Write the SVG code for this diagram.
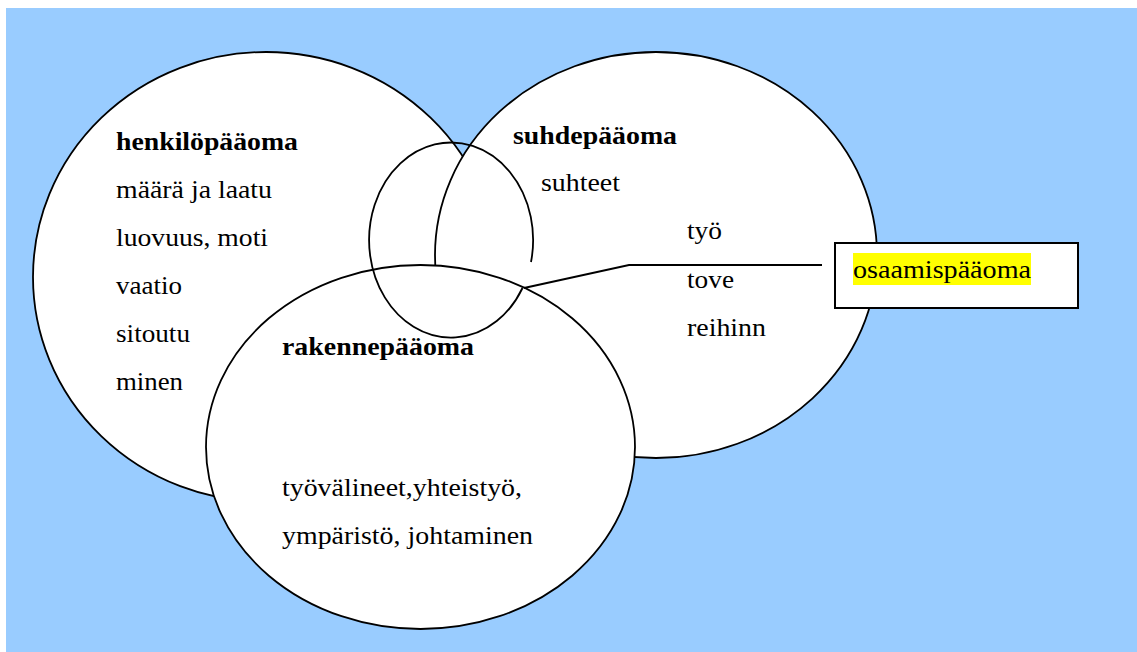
<svg xmlns="http://www.w3.org/2000/svg" width="1137" height="652" viewBox="0 0 1137 652">
  <style>
    .bubble { fill: #ffffff; stroke: #000000; stroke-width: 1.8; }
    .line { fill: none; stroke: #000000; stroke-width: 1.8; }
    .t { font-family: "Liberation Serif", "Times New Roman", serif; font-size: 25px; fill: #000000; }
    .b { font-weight: bold; }
  </style>
  <rect x="0" y="0" width="1137" height="652" fill="#ffffff"/>
  <rect x="6" y="8" width="1131" height="644" fill="#99ccff"/>

  <g id="henkilopaaoma">
    <ellipse class="bubble" cx="266" cy="277" rx="233" ry="225"/>
    <text class="t b" x="116" y="150" textLength="182" lengthAdjust="spacingAndGlyphs">henkilöpääoma</text>
    <text class="t" x="116" y="198" textLength="156" lengthAdjust="spacingAndGlyphs">määrä ja laatu</text>
    <text class="t" x="116" y="246" textLength="152" lengthAdjust="spacingAndGlyphs">luovuus, moti</text>
    <text class="t" x="116" y="294" textLength="66" lengthAdjust="spacingAndGlyphs">vaatio</text>
    <text class="t" x="116" y="342" textLength="74" lengthAdjust="spacingAndGlyphs">sitoutu</text>
    <text class="t" x="116" y="390" textLength="67" lengthAdjust="spacingAndGlyphs">minen</text>
  </g>

  <g id="suhdepaaoma">
    <ellipse class="bubble" cx="656" cy="255" rx="221" ry="203"/>
    <text class="t b" x="513" y="144" textLength="164" lengthAdjust="spacingAndGlyphs">suhdepääoma</text>
    <text class="t" x="541" y="191" textLength="79" lengthAdjust="spacingAndGlyphs">suhteet</text>
    <text class="t" x="687" y="239" textLength="35" lengthAdjust="spacingAndGlyphs">työ</text>
    <text class="t" x="687" y="288" textLength="47" lengthAdjust="spacingAndGlyphs">tove</text>
    <text class="t" x="687" y="336" textLength="79" lengthAdjust="spacingAndGlyphs">reihinn</text>
  </g>

  <g id="rakennepaaoma">
    <ellipse class="bubble" cx="420.5" cy="447" rx="214.5" ry="182"/>
    <text class="t b" x="282" y="355" textLength="192" lengthAdjust="spacingAndGlyphs">rakennepääoma</text>
    <text class="t" x="282" y="496" textLength="240" lengthAdjust="spacingAndGlyphs">työvälineet,yhteistyö,</text>
    <text class="t" x="282" y="544" textLength="251" lengthAdjust="spacingAndGlyphs">ympäristö, johtaminen</text>
  </g>

  <!-- open ring over the shared area, plus the pointer to the label box -->
  <g id="connectors">
    <path class="line" d="M 522.5 288 A 82 97.5 0 1 1 531 262"/>
    <polyline class="line" points="524,288 629,265 822,265"/>
  </g>

  <g id="osaamispaaoma">
    <rect x="835" y="243" width="243" height="65" fill="#ffffff" stroke="#000000" stroke-width="2"/>
    <rect x="853" y="253" width="178" height="32" fill="#ffff00"/>
    <text class="t" x="853" y="278" textLength="178" lengthAdjust="spacingAndGlyphs">osaamispääoma</text>
  </g>
</svg>
